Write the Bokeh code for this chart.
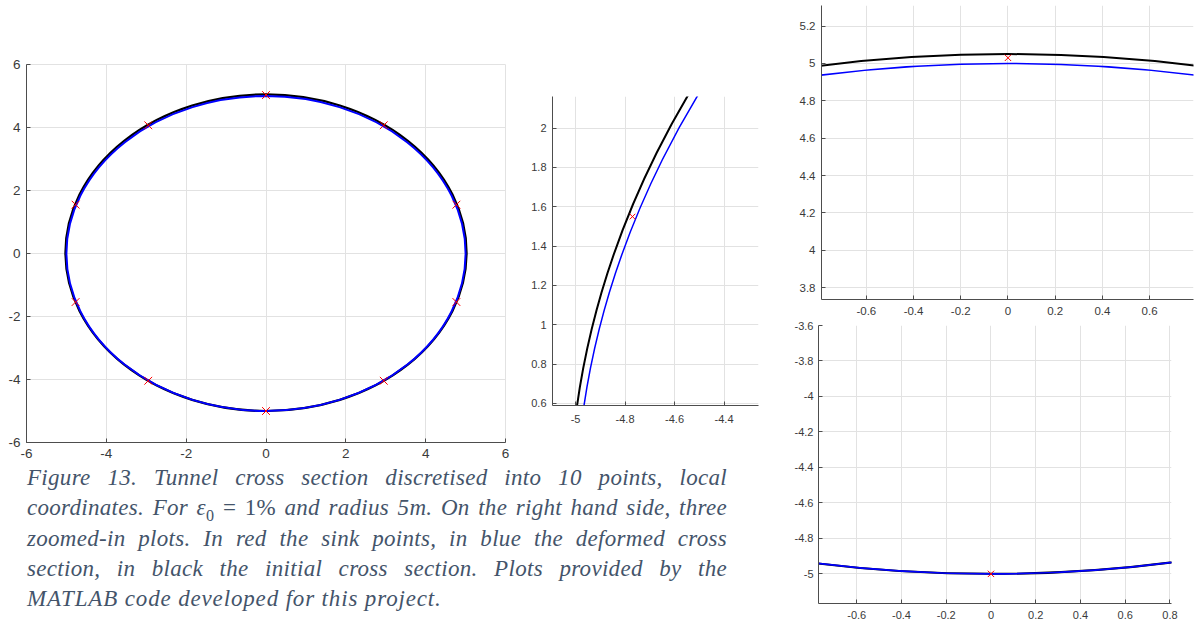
from bokeh.plotting import figure
from bokeh.models import Range1d, FixedTicker, CustomJSTickFormatter, Div
from bokeh.embed import file_html
from bokeh.resources import INLINE

# ---- data ----
# initial cross section (black): centre and diameter
init_cx = [0.0]
init_cy = [0.025]
init_d = [10.05]
# deformed cross section (blue): centre and diameter
def_cx = [0.0]
def_cy = [0.0]
def_d = [10.0]
# sink points (red)
sink_x = [0.0, 2.95, 4.77, 4.77, 2.95, 0.0, -2.95, -4.77, -4.77, -2.95]
sink_y = [5.03, 4.07, 1.55, -1.54, -4.04, -5.0, -4.04, -1.54, 1.55, 4.07]

# tick values
main_ticks = [-6, -4, -2, 0, 2, 4, 6]
mid_xticks = [-5.0, -4.8, -4.6, -4.4]
mid_yticks = [0.6, 0.8, 1.0, 1.2, 1.4, 1.6, 1.8, 2.0]
tr_xticks = [-0.6, -0.4, -0.2, 0.0, 0.2, 0.4, 0.6]
tr_yticks = [3.8, 4.0, 4.2, 4.4, 4.6, 4.8, 5.0, 5.2]
br_xticks = [-0.6, -0.4, -0.2, 0.0, 0.2, 0.4, 0.6, 0.8]
br_yticks = [-5.0, -4.8, -4.6, -4.4, -4.2, -4.0, -3.8, -3.6]

caption_lines = [
    "Figure 13. Tunnel cross section discretised into 10 points, local",
    "coordinates. For <span style='font-style:italic'>&epsilon;</span><sub style='font-style:normal;font-size:70%;line-height:0'>0</sub><span style='font-style:normal'> = 1%</span> and radius 5m. On the right hand side, three",
    "zoomed-in plots. In red the sink points, in blue the deformed cross",
    "section, in black the initial cross section. Plots provided by the",
    "MATLAB code developed for this project.",
]

fmt = CustomJSTickFormatter(code="return String(Math.round(tick*1000)/1000)")


def make(xr, yr, xt, yt, fw, fh, ml, mr, mt, mb, fs, lw_black, lw_blue, msize, outline=None, xstand=8, ystand=6):
    p = figure(x_range=Range1d(*xr), y_range=Range1d(*yr), frame_width=fw, frame_height=fh,
               min_border_left=ml, min_border_right=mr, min_border_top=mt, min_border_bottom=mb,
               output_backend="svg", toolbar_location=None)
    p.outline_line_color = outline
    p.xaxis.ticker = FixedTicker(ticks=xt)
    p.yaxis.ticker = FixedTicker(ticks=yt)
    p.xaxis.formatter = fmt
    p.yaxis.formatter = fmt
    for ax in (p.xaxis, p.yaxis):
        ax.axis_line_color = "#4d4d4d"
        ax.axis_line_width = 1
        ax.major_tick_line_color = "#4d4d4d"
        ax.major_tick_in = 4
        ax.major_tick_out = 0
        ax.minor_tick_line_color = None
        ax.major_label_text_font = "Liberation Sans"
        ax.major_label_text_font_size = fs
        ax.major_label_text_color = "#3a3a3a"
    p.xaxis.major_label_standoff = xstand
    p.yaxis.major_label_standoff = ystand
    p.grid.grid_line_color = "#e2e2e2"
    p.grid.grid_line_width = 1
    p.ellipse(x=init_cx, y=init_cy, width=init_d, height=init_d, fill_color=None,
              line_color="black", line_width=lw_black)
    p.ellipse(x=def_cx, y=def_cy, width=def_d, height=def_d, fill_color=None,
              line_color="#0000ff", line_width=lw_blue)
    p.scatter(x=sink_x, y=sink_y, marker="x", size=msize, line_color="#ff0000", line_width=1)
    return p


main = make((-6, 6), (-6, 6), main_ticks, main_ticks, 479, 378, 26, 10, 64, 24, "13.5px",
            2.2, 2.0, 11, outline="#e2e2e2", xstand=6, ystand=6)
mid = make((-5.093, -4.261), (0.589, 2.161), mid_xticks, mid_yticks, 206, 309, 37, 12, 96, 40, "11px",
           2.0, 1.5, 8, xstand=9, ystand=6)
tr = make((-0.79, 0.786), (3.737, 5.31), tr_xticks, tr_yticks, 372, 294, 51, 3, 5, 21, "11.5px",
          2.0, 1.6, 9, xstand=7, ystand=6)
br = make((-0.771, 0.807), (-5.167, -3.6), br_xticks, br_yticks, 353, 278, 48, 25, 5, 21, "11px",
          2.0, 1.8, 9, xstand=7, ystand=5)

line_html = []
for i, ln in enumerate(caption_lines):
    last = i == len(caption_lines) - 1
    al = "left" if last else "justify"
    ls = "0.85px" if last else "0.3px"
    line_html.append(
        f"<div style='white-space:nowrap;letter-spacing:{ls};text-align:{al};text-align-last:{al};"
        f"height:30.3px;line-height:30.3px'>{ln}</div>")
html = ("<div style=\"width:700px;font-family:'Liberation Serif';"
        "font-style:italic;font-size:23px;color:#44546A\">" + "".join(line_html) + "</div>")
cap = Div(text=html, width=720, height=158, margin=(0, 0, 0, 0))

models = [main, mid, cap, tr, br]
lefts = [0, 515, 27, 770, 770]
tops = [0, 0, 463, 0, 320]

template = """
{% from macros import embed %}
{% block postamble %}<style>html, body {margin:0; padding:0; overflow:hidden;}</style>{% endblock %}
{% block contents %}
{% for doc in docs %}{% for root in doc.roots %}
<div style="position:absolute; left:{{ lefts[loop.index0] }}px; top:{{ tops[loop.index0] }}px;">{{ embed(root) }}</div>
{% endfor %}{% endfor %}
{% endblock %}
"""

html_page = file_html(models, INLINE, title="Figure 13", template=template,
                      template_variables={"lefts": lefts, "tops": tops})
open("out.html", "w").write(html_page)
